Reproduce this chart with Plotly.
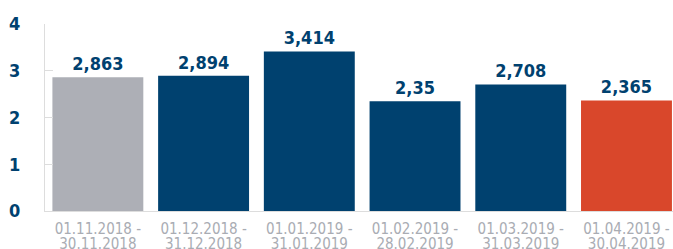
import plotly.graph_objects as go

periods_start = ["01.11.2018 -", "01.12.2018 -", "01.01.2019 -", "01.02.2019 -", "01.03.2019 -", "01.04.2019 -"]
periods_end = ["30.11.2018", "31.12.2018", "31.01.2019", "28.02.2019", "31.03.2019", "30.04.2019"]
values = [2.863, 2.894, 3.414, 2.35, 2.708, 2.365]
bar_colors = ["#adafb6", "#00416f", "#00416f", "#00416f", "#00416f", "#d9472b"]
y_ticks = [0, 1, 2, 3, 4]

FONT = "DejaVu Sans Condensed"
BLUE = "#00416f"
GRAY_TXT = "#a9acb3"
LINE = "#dddddd"

pos = list(range(len(values)))
labels = [str(v).replace(".", ",") for v in values]

fig = go.Figure()
fig.add_trace(go.Bar(
    x=pos, y=values, marker=dict(color=bar_colors, line=dict(width=0)),
    text=labels, textposition="outside",
    textfont=dict(family=FONT, size=18, color=BLUE, weight="bold"),
    cliponaxis=False, hoverinfo="skip",
))

fig.update_layout(
    width=673, height=249,
    margin=dict(l=45, r=0, t=24, b=38, pad=0, autoexpand=False),
    paper_bgcolor="white", plot_bgcolor="white",
    bargap=0.14, showlegend=False,
    xaxis=dict(
        range=[-0.5, 5.44], tickvals=pos, ticktext=periods_start,
        showline=True, linecolor=LINE, linewidth=1, ticks="", showgrid=False,
        zeroline=False, tickfont=dict(family=FONT, size=15, color=GRAY_TXT),
        ticklabelstandoff=4, automargin=False,
    ),
    xaxis2=dict(
        range=[-0.5, 5.44], tickvals=pos, ticktext=periods_end,
        overlaying="x", anchor="y", side="bottom",
        showline=False, ticks="", showgrid=False, zeroline=False,
        tickfont=dict(family=FONT, size=15, color=GRAY_TXT),
        ticklabelstandoff=22, automargin=False,
    ),
    yaxis=dict(
        range=[0, 4], tickvals=y_ticks, showline=True, linecolor=LINE, linewidth=1,
        ticks="inside", ticklen=8, tickcolor=LINE, showgrid=False, zeroline=False,
        tickfont=dict(family=FONT, size=18, color=BLUE, weight="bold"),
        ticklabelstandoff=20, automargin=False,
    ),
)
fig.add_trace(go.Scatter(x=[], y=[], xaxis="x2", showlegend=False))

fig.write_html(
    "out.html",
    config={"displayModeBar": False},
    post_script="document.body.style.margin='0';document.body.style.overflow='hidden';",
)
